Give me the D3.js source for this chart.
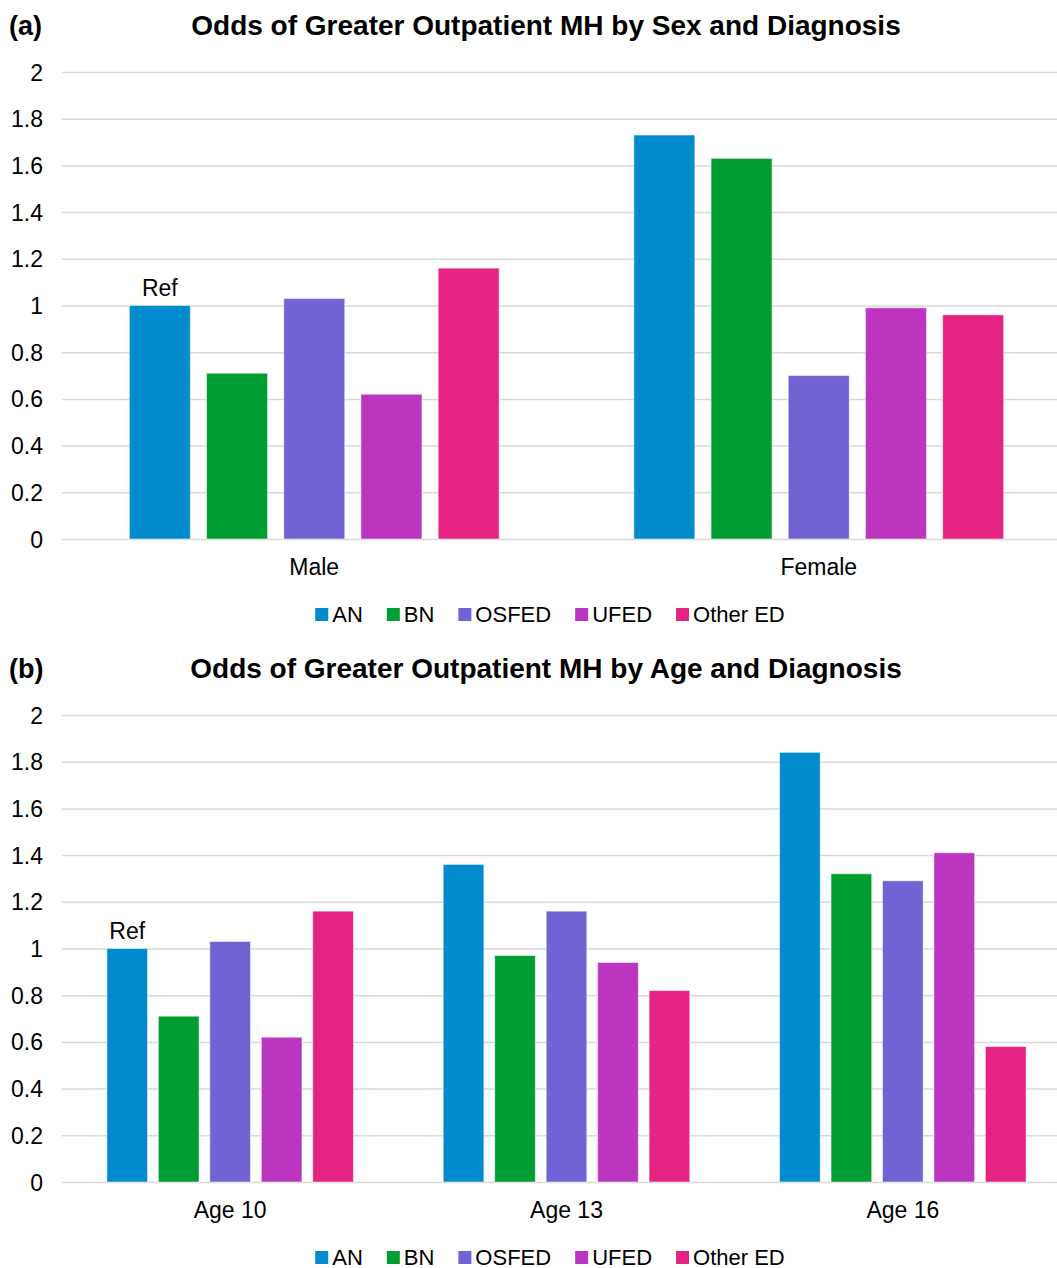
<!DOCTYPE html>
<html>
<head>
<meta charset="utf-8">
<script src="https://cdn.jsdelivr.net/npm/d3@7"></script>
<style>
  body { margin: 0; background: #fff; }
  svg { display: block; font-family: Arial, "Liberation Sans", sans-serif; }
</style>
</head>
<body>
<svg id="chart" width="1057" height="1268"></svg>
<script>
// series / categories
const diagnoses = ["AN", "BN", "OSFED", "UFED", "Other ED"]
const colors = ["#008bce", "#009e32", "#7163d4", "#bb35be", "#e52382"]
const yTicks = [0, 0.2, 0.4, 0.6, 0.8, 1, 1.2, 1.4, 1.6, 1.8, 2]

const sexGroups = ["Male", "Female"]
const sexValues = [
  [1.00, 0.71, 1.03, 0.62, 1.16],
  [1.73, 1.63, 0.70, 0.99, 0.96]
]

const ageGroups = ["Age 10", "Age 13", "Age 16"]
const ageValues = [
  [1.00, 0.71, 1.03, 0.62, 1.16],
  [1.36, 0.97, 1.16, 0.94, 0.82],
  [1.84, 1.32, 1.29, 1.41, 0.58]
]

const svg = d3.select("#chart")

function drawPanel(opts) {
  const g = svg.append("g").attr("transform", `translate(0,${opts.top})`)
  const plotTop = 72, plotBottom = 539, left = 62, right = 1071

  // panel letter + title
  g.append("text").attr("x", 9).attr("y", 35)
    .attr("font-size", 27).attr("font-weight", "bold").text(opts.letter)
  g.append("text").attr("x", 546).attr("y", 35).attr("text-anchor", "middle")
    .attr("font-size", 28).attr("font-weight", "bold").text(opts.title)

  const y = d3.scaleLinear().domain([0, 2]).range([plotBottom, plotTop])
  const x0 = d3.scaleBand().domain(opts.groups).range([left, right]).padding(0)
  const inner = x0.bandwidth() * 0.733
  const x1 = d3.scaleBand().domain(diagnoses)
    .range([(x0.bandwidth() - inner) / 2, (x0.bandwidth() + inner) / 2])
    .paddingInner(0.21).paddingOuter(0)

  // gridlines + tick labels
  const yAxis = d3.axisLeft(y).tickValues(yTicks).tickSize(left - right).tickFormat(d3.format("~g"))
  const ax = g.append("g").attr("transform", `translate(${left},0)`).call(yAxis)
  ax.select(".domain").remove()
  ax.selectAll(".tick line").attr("stroke", "#d9d9d9").attr("stroke-width", 1.5)
    .attr("x1", 0).attr("x2", right - left)
  ax.selectAll(".tick text").attr("x", -19).attr("dy", "0.35em")
    .attr("font-size", 23).attr("fill", "#000").attr("font-family", null)

  // bars
  const groups = g.selectAll("g.grp").data(opts.groups).join("g")
    .attr("class", "grp")
    .attr("transform", d => `translate(${x0(d)},0)`)
  groups.selectAll("rect").data((d, i) => opts.values[i].map((v, j) => ({ key: diagnoses[j], v, j })))
    .join("rect")
    .attr("x", d => x1(d.key))
    .attr("width", x1.bandwidth())
    .attr("y", d => y(d.v))
    .attr("height", d => y(0) - y(d.v))
    .attr("fill", d => colors[d.j])
    .attr("stroke", "#fff").attr("stroke-opacity", 0.5).attr("stroke-width", 1)

  // ref label
  g.append("text")
    .attr("x", x0(opts.groups[0]) + x1(diagnoses[0]) + x1.bandwidth() / 2)
    .attr("y", y(opts.values[0][0]) - 10)
    .attr("text-anchor", "middle").attr("font-size", 23).text("Ref")

  // category labels
  g.selectAll("text.cat").data(opts.groups).join("text")
    .attr("class", "cat")
    .attr("x", d => x0(d) + x0.bandwidth() / 2)
    .attr("y", 575).attr("text-anchor", "middle").attr("font-size", 23)
    .text(d => d)

  // legend
  const leg = g.append("g")
  let cx = 0
  diagnoses.forEach((d, i) => {
    const item = leg.append("g").attr("transform", `translate(${cx},0)`)
    item.append("rect").attr("x", 0).attr("y", -6).attr("width", 13).attr("height", 13).attr("fill", colors[i])
    const t = item.append("text").attr("x", 17).attr("y", 7.5).attr("font-size", 22).text(d)
    cx += 17 + t.node().getComputedTextLength() + 24
  })
  const legW = cx - 24
  leg.attr("transform", `translate(${550 - legW / 2},${614})`)
}

drawPanel({ top: 0, letter: "(a)", title: "Odds of Greater Outpatient MH by Sex and Diagnosis", groups: sexGroups, values: sexValues })
drawPanel({ top: 643, letter: "(b)", title: "Odds of Greater Outpatient MH by Age and Diagnosis", groups: ageGroups, values: ageValues })
</script>
</body>
</html>
